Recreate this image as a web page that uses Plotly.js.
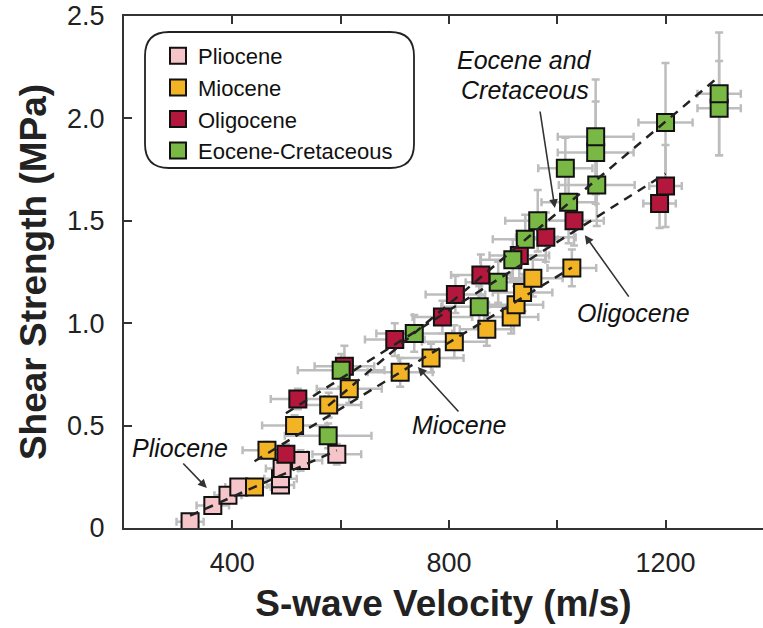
<!DOCTYPE html>
<html>
<head>
<meta charset="utf-8">
<script src="https://cdn.plot.ly/plotly-3.0.1.min.js"></script>
<style>html,body{margin:0;padding:0;background:#fff;}#chart{width:763px;height:628px;}</style>
</head>
<body>
<div id="chart"></div>
<script>
// ---- Data ----
const seriesNames = ["Pliocene", "Miocene", "Oligocene", "Eocene-Cretaceous"];

const plioX  = [322, 364, 392, 412, 489, 489, 492, 526, 593];
const plioY  = [0.03, 0.11, 0.16, 0.20, 0.21, 0.24, 0.29, 0.33, 0.36];
const plioEx = [25, 30, 25, 25, 25, 30, 30, 40, 45];
const plioEy = [0.03, 0.03, 0.03, 0.03, 0.03, 0.04, 0.04, 0.05, 0.05];

const mioX  = [441, 464, 515, 578, 616, 710, 767, 810, 870, 915, 924, 936, 955, 1027];
const mioY  = [0.20, 0.38, 0.50, 0.60, 0.68, 0.76, 0.83, 0.91, 0.97, 1.03, 1.09, 1.15, 1.22, 1.27];
const mioEx = [30, 45, 60, 60, 60, 60, 60, 60, 50, 50, 50, 55, 55, 45];
const mioEy = [0.03, 0.04, 0.05, 0.06, 0.07, 0.07, 0.07, 0.08, 0.08, 0.08, 0.09, 0.09, 0.09, 0.09];

const oliX  = [499, 521, 607, 700, 788, 812, 859, 930, 979, 1031, 1189, 1200];
const oliY  = [0.36, 0.63, 0.79, 0.92, 1.03, 1.14, 1.235, 1.33, 1.42, 1.50, 1.585, 1.67];
const oliEx = [40, 50, 55, 55, 55, 55, 55, 55, 55, 55, 30, 30];
const oliEy = [0.05, 0.05, 0.10, 0.08, 0.08, 0.09, 0.10, 0.12, 0.12, 0.12, 0.12, 0.20];

const eocX  = [577, 601, 736, 856, 891, 918, 941, 964, 1015, 1021, 1073, 1071, 1071, 1200, 1299, 1299];
const eocY  = [0.45, 0.77, 0.95, 1.08, 1.20, 1.31, 1.41, 1.50, 1.756, 1.59, 1.675, 1.833, 1.91, 1.98, 2.05, 2.12];
const eocEx = [80, 80, 70, 70, 60, 60, 60, 60, 50, 50, 70, 70, 70, 50, 40, 40];
const eocEy = [0.06, 0.08, 0.09, 0.10, 0.10, 0.10, 0.12, 0.15, 0.15, 0.20, 0.20, 0.25, 0.28, 0.29, 0.23, 0.30];

const xTickVals = [400, 600, 800, 1000, 1200];
const xTickText = ["400", "", "800", "", "1200"];
const yTickVals = [0, 0.5, 1.0, 1.5, 2.0, 2.5];
const yTickText = ["0", "0.5", "1.0", "1.5", "2.0", "2.5"];

const colors = ["#f6c5c9", "#f2b324", "#b3173b", "#79b844"];

// ---- Build traces ----
const groups = [
  [plioX, plioY, plioEx, plioEy],
  [mioX, mioY, mioEx, mioEy],
  [oliX, oliY, oliEx, oliEy],
  [eocX, eocY, eocEx, eocEy]
];

function fit(xs, ys) {
  const n = xs.length;
  let sx = 0, sy = 0, sxx = 0, sxy = 0;
  for (let i = 0; i < n; i++) { sx += xs[i]; sy += ys[i]; sxx += xs[i]*xs[i]; sxy += xs[i]*ys[i]; }
  const b = (n*sxy - sx*sy) / (n*sxx - sx*sx);
  const a = (sy - b*sx) / n;
  const x0 = Math.min(...xs), x1 = Math.max(...xs);
  return {x: [x0, x1], y: [a + b*x0, a + b*x1]};
}

const FONT = "Liberation Sans, Arial, Helvetica, sans-serif";
const traces = [];
// error bars first (underneath all markers)
groups.forEach((g, i) => {
  traces.push({
    type: "scatter", mode: "markers", x: g[0], y: g[1],
    marker: {size: 1, opacity: 0},
    error_x: {type: "data", array: g[2], visible: true, color: "#bdbdbd", thickness: 2.5, width: 4},
    error_y: {type: "data", array: g[3], visible: true, color: "#bdbdbd", thickness: 2.5, width: 4},
    showlegend: false, hoverinfo: "skip"
  });
});
// markers
groups.forEach((g, i) => {
  traces.push({
    type: "scatter", mode: "markers", x: g[0], y: g[1], name: seriesNames[i],
    marker: {symbol: "square", size: 17, color: colors[i], line: {color: "#111", width: 2}}
  });
});
// dashed fit lines on top
groups.forEach((g, i) => {
  const f = fit(g[0], g[1]);
  traces.push({
    type: "scatter", mode: "lines", x: f.x, y: f.y, showlegend: false, hoverinfo: "skip",
    line: {color: "#222", width: 2.5, dash: "9px,7px"}
  });
});

// rounded legend frame (paper coords)
const W = 763 - 124, H = 512;
function pxX(p) { return (p - 124) / W; }
function pxY(p) { return (528 - p) / H; }
const bx0 = pxX(145), bx1 = pxX(414), by1 = pxY(32), by0 = pxY(168);
const rx = 24 / W, ry = 24 / H;
const framePath = `M ${bx0+rx},${by1} L ${bx1-rx},${by1} Q ${bx1},${by1} ${bx1},${by1-ry} L ${bx1},${by0+ry} Q ${bx1},${by0} ${bx1-rx},${by0} L ${bx0+rx},${by0} Q ${bx0},${by0} ${bx0},${by0+ry} L ${bx0},${by1-ry} Q ${bx0},${by1} ${bx0+rx},${by1} Z`;

const txtFont = {family: FONT, size: 25, color: "#111", style: "italic"};
function label(text, x, y) {
  return {x: x, y: y, xref: "x", yref: "y", text: text, showarrow: false,
          xanchor: "left", yanchor: "middle", font: txtFont};
}
function arrow(x, y, ax, ay) {
  return {x: x, y: y, xref: "x", yref: "y", ax: ax, ay: ay, axref: "pixel", ayref: "pixel",
          text: "", showarrow: true, arrowhead: 2, arrowsize: 1.1, arrowwidth: 1.6, arrowcolor: "#333"};
}

const layout = {
  width: 763, height: 628,
  margin: {l: 124, r: 0, t: 16, b: 100},
  paper_bgcolor: "#fff", plot_bgcolor: "#fff",
  showlegend: true,
  legend: {x: pxX(158), y: pxY(35), xanchor: "left", yanchor: "top",
           bgcolor: "rgba(0,0,0,0)", borderwidth: 0, traceorder: "normal",
           font: {family: FONT, size: 22, color: "#111"}},
  xaxis: {
    range: [200, 1380], tickvals: xTickVals, ticktext: xTickText,
    ticks: "inside", ticklen: 8, tickwidth: 2, tickcolor: "#333",
    showline: true, linecolor: "#333", linewidth: 2, mirror: "ticks",
    showgrid: false, zeroline: false, ticklabelstandoff: 10,
    tickfont: {family: FONT, size: 27, color: "#222"},
    title: {text: "<b>S-wave Velocity (m/s)</b>", standoff: 13, font: {family: FONT, size: 37, color: "#222"}}
  },
  yaxis: {
    range: [0, 2.5], tickvals: yTickVals, ticktext: yTickText,
    ticks: "inside", ticklen: 8, tickwidth: 2, tickcolor: "#333",
    showline: true, linecolor: "#333", linewidth: 2, mirror: false,
    showgrid: false, zeroline: false, ticklabelstandoff: 12,
    tickfont: {family: FONT, size: 27, color: "#222"},
    title: {text: "<b>Shear Strength (MPa)</b>", standoff: 9, font: {family: FONT, size: 37, color: "#222"}}
  },
  shapes: [{type: "path", xref: "paper", yref: "paper", path: framePath,
            line: {color: "#222", width: 1.8}, fillcolor: "rgba(0,0,0,0)"}],
  annotations: [
    label("Eocene and", 811, 2.285),
    label("Cretaceous", 818, 2.139),
    label("Oligocene", 1032, 1.05),
    label("Miocene", 728, 0.503),
    label("Pliocene", 211, 0.39),
    arrow(995.6, 1.5625, -15, -98),
    arrow(1051, 1.43, 45, 63),
    arrow(742.6, 0.786, 42, 46),
    arrow(352.9, 0.195, -25, -26)
  ]
};

Plotly.newPlot("chart", traces, layout, {displayModeBar: false, staticPlot: true});
</script>
</body>
</html>
